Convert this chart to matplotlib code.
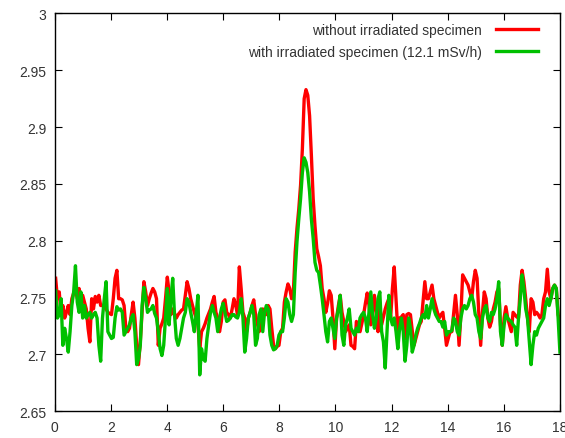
import numpy as np
import matplotlib
matplotlib.use("Agg")
import matplotlib.pyplot as plt
from matplotlib.ticker import FormatStrFormatter, MultipleLocator

red_label = "without irradiated specimen"
green_label = "with irradiated specimen (12.1 mSv/h)"

red_y = [
 2.767, 2.749, 2.755, 2.735, 2.743, 2.732, 2.737, 2.743, 2.735, 2.749,
 2.754, 2.758, 2.749, 2.758, 2.743, 2.752, 2.746, 2.740, 2.723, 2.711,
 2.749, 2.740, 2.751, 2.746, 2.752, 2.743, 2.743, 2.743, 2.740, 2.737,
 2.736, 2.735, 2.749, 2.767, 2.774, 2.749, 2.749, 2.748, 2.743, 2.723,
 2.720, 2.723, 2.735, 2.746, 2.732, 2.708, 2.691, 2.711, 2.737, 2.764,
 2.755, 2.743, 2.749, 2.754, 2.758, 2.755, 2.749, 2.708, 2.723, 2.727,
 2.732, 2.749, 2.768, 2.755, 2.735, 2.740, 2.736, 2.732, 2.735, 2.737,
 2.739, 2.740, 2.752, 2.764, 2.758, 2.749, 2.743, 2.737, 2.732, 2.726,
 2.705, 2.720, 2.723, 2.727, 2.732, 2.736, 2.740, 2.746, 2.751, 2.737,
 2.732, 2.720, 2.729, 2.746, 2.748, 2.737, 2.735, 2.732, 2.740, 2.749,
 2.743, 2.735, 2.777, 2.758, 2.737, 2.732, 2.720, 2.732, 2.737, 2.743,
 2.748, 2.735, 2.727, 2.720, 2.735, 2.740, 2.737, 2.735, 2.743, 2.740,
 2.723, 2.708, 2.705, 2.707, 2.708, 2.720, 2.723, 2.746, 2.755, 2.762,
 2.758, 2.749, 2.755, 2.790, 2.811, 2.828, 2.849, 2.881, 2.925, 2.933,
 2.928, 2.910, 2.875, 2.837, 2.813, 2.793, 2.786, 2.778, 2.758, 2.749,
 2.737, 2.745, 2.756, 2.752, 2.732, 2.705, 2.732, 2.743, 2.752, 2.737,
 2.729, 2.720, 2.723, 2.726, 2.708, 2.707, 2.705, 2.729, 2.724, 2.720,
 2.727, 2.735, 2.745, 2.754, 2.743, 2.726, 2.739, 2.752, 2.735, 2.720,
 2.743, 2.726, 2.733, 2.740, 2.745, 2.749, 2.732, 2.758, 2.777, 2.749,
 2.720, 2.732, 2.733, 2.735, 2.714, 2.735, 2.736, 2.735, 2.721, 2.708,
 2.714, 2.720, 2.726, 2.729, 2.746, 2.764, 2.749, 2.749, 2.755, 2.761,
 2.749, 2.743, 2.737, 2.732, 2.735, 2.737, 2.723, 2.708, 2.714, 2.720,
 2.720, 2.736, 2.752, 2.735, 2.708, 2.735, 2.770, 2.767, 2.764, 2.761,
 2.755, 2.749, 2.764, 2.774, 2.767, 2.735, 2.708, 2.737, 2.755, 2.749,
 2.732, 2.724, 2.729, 2.740, 2.746, 2.755, 2.758, 2.726, 2.708, 2.732,
 2.742, 2.732, 2.726, 2.720, 2.737, 2.735, 2.733, 2.732, 2.761, 2.774,
 2.764, 2.749, 2.732, 2.720, 2.749, 2.746, 2.735, 2.737, 2.735, 2.732,
 2.735, 2.749, 2.755, 2.775, 2.755, 2.749, 2.758, 2.761, 2.758, 2.735,
 2.729,
]

green_y = [
 2.756, 2.732, 2.735, 2.749, 2.708, 2.723, 2.714, 2.702, 2.720, 2.743,
 2.755, 2.778, 2.746, 2.737, 2.755, 2.732, 2.743, 2.732, 2.735, 2.737,
 2.732, 2.735, 2.737, 2.732, 2.708, 2.694, 2.732, 2.749, 2.764, 2.720,
 2.717, 2.714, 2.715, 2.732, 2.742, 2.739, 2.740, 2.737, 2.717, 2.720,
 2.723, 2.726, 2.732, 2.735, 2.720, 2.691, 2.696, 2.708, 2.743, 2.759,
 2.749, 2.737, 2.739, 2.740, 2.743, 2.736, 2.732, 2.720, 2.705, 2.699,
 2.708, 2.732, 2.758, 2.726, 2.749, 2.767, 2.735, 2.714, 2.708, 2.714,
 2.723, 2.732, 2.737, 2.749, 2.746, 2.737, 2.729, 2.720, 2.735, 2.752,
 2.682, 2.705, 2.696, 2.694, 2.714, 2.726, 2.737, 2.743, 2.737, 2.732,
 2.720, 2.732, 2.740, 2.745, 2.737, 2.729, 2.730, 2.732, 2.735, 2.735,
 2.733, 2.732, 2.737, 2.749, 2.732, 2.702, 2.714, 2.732, 2.737, 2.743,
 2.735, 2.708, 2.714, 2.735, 2.740, 2.720, 2.737, 2.743, 2.740, 2.717,
 2.708, 2.704, 2.705, 2.708, 2.717, 2.720, 2.720, 2.732, 2.749, 2.746,
 2.735, 2.729, 2.735, 2.772, 2.799, 2.819, 2.837, 2.860, 2.873, 2.869,
 2.860, 2.843, 2.819, 2.802, 2.781, 2.774, 2.772, 2.761, 2.749, 2.735,
 2.720, 2.711, 2.729, 2.732, 2.723, 2.714, 2.732, 2.740, 2.752, 2.717,
 2.708, 2.726, 2.732, 2.740, 2.723, 2.720, 2.717, 2.723, 2.720, 2.732,
 2.735, 2.737, 2.732, 2.720, 2.737, 2.755, 2.735, 2.723, 2.732, 2.749,
 2.755, 2.720, 2.711, 2.688, 2.720, 2.752, 2.732, 2.726, 2.732, 2.720,
 2.705, 2.723, 2.732, 2.720, 2.694, 2.708, 2.732, 2.723, 2.702, 2.708,
 2.717, 2.723, 2.727, 2.732, 2.735, 2.732, 2.743, 2.732, 2.740, 2.749,
 2.740, 2.735, 2.732, 2.729, 2.729, 2.724, 2.729, 2.717, 2.720, 2.720,
 2.721, 2.732, 2.729, 2.720, 2.717, 2.732, 2.740, 2.743, 2.740, 2.743,
 2.749, 2.752, 2.746, 2.735, 2.732, 2.720, 2.714, 2.732, 2.740, 2.743,
 2.732, 2.729, 2.737, 2.735, 2.740, 2.749, 2.764, 2.720, 2.708, 2.726,
 2.735, 2.732, 2.730, 2.729, 2.726, 2.724, 2.708, 2.732, 2.749, 2.770,
 2.758, 2.740, 2.732, 2.711, 2.691, 2.708, 2.720, 2.717, 2.723, 2.726,
 2.729, 2.732, 2.743, 2.749, 2.743, 2.749, 2.758, 2.761, 2.758, 2.732,
 2.702,
]

x_red = np.linspace(0.03, 18.0, len(red_y))
x_green = np.linspace(0.03, 18.0, len(green_y))

x_ticks = [0, 2, 4, 6, 8, 10, 12, 14, 16, 18]
y_ticks = [2.65, 2.7, 2.75, 2.8, 2.85, 2.9, 2.95, 3.0]

plt.rcParams['font.family'] = ['Liberation Sans', 'DejaVu Sans']

fig = plt.figure(figsize=(5.65, 4.39), dpi=100)
ax = fig.add_axes([0.097, 0.061, 0.894, 0.906])

ax.plot(x_red, red_y, color='#ff0000', lw=2.4, label=red_label, solid_joinstyle='round')
ax.plot(x_green, green_y, color='#00c000', lw=2.4, label=green_label, solid_joinstyle='round')

ax.set_xlim(0, 18)
ax.set_ylim(2.65, 3.0)
ax.set_xticks(x_ticks)
ax.set_yticks(y_ticks)
ax.yaxis.set_major_formatter(FormatStrFormatter('%g'))
ax.xaxis.set_major_formatter(FormatStrFormatter('%g'))
ax.tick_params(direction='in', length=5, width=0.8, top=True, right=True,
               labelsize=10, colors='#000000', labelcolor='#333333', pad=6)
for s in ax.spines.values():
    s.set_linewidth(1.0)

leg = ax.legend(loc='upper right', bbox_to_anchor=(0.975, 1.0), frameon=False,
                markerfirst=False, fontsize=10, handlelength=3.0,
                handletextpad=1.0, labelspacing=0.55, borderaxespad=0.3)
for t in leg.get_texts():
    t.set_color('#333333')
    t.set_ha('right')

fig.savefig('out.png', dpi=100)
